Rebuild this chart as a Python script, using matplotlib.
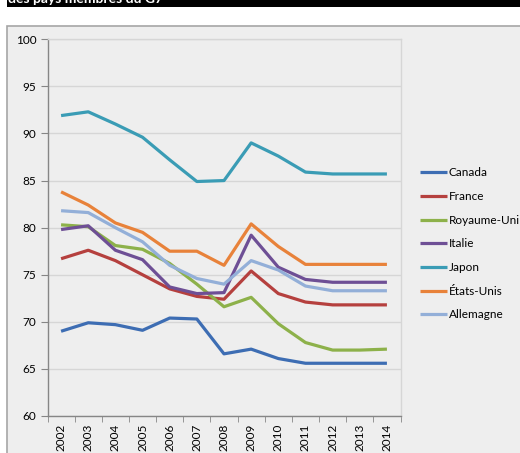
import matplotlib
matplotlib.use("Agg")
import matplotlib.pyplot as plt
from matplotlib.patches import Rectangle

plt.rcParams['font.family'] = ['Lato', 'DejaVu Sans']

years = ['2002', '2003', '2004', '2005', '2006', '2007', '2008',
         '2009', '2010', '2011', '2012', '2013', '2014']
canada = [69.0, 69.9, 69.7, 69.1, 70.4, 70.3, 66.6, 67.1, 66.1, 65.6, 65.6, 65.6, 65.6]
france = [76.7, 77.6, 76.5, 75.0, 73.5, 72.7, 72.4, 75.4, 73.0, 72.1, 71.8, 71.8, 71.8]
royaume_uni = [80.3, 80.1, 78.1, 77.7, 76.2, 74.0, 71.6, 72.6, 69.8, 67.8, 67.0, 67.0, 67.1]
italie = [79.8, 80.2, 77.6, 76.6, 73.7, 73.0, 73.1, 79.2, 75.8, 74.5, 74.2, 74.2, 74.2]
japon = [91.9, 92.3, 91.0, 89.6, 87.2, 84.9, 85.0, 89.0, 87.6, 85.9, 85.7, 85.7, 85.7]
etats_unis = [83.8, 82.4, 80.5, 79.5, 77.5, 77.5, 76.0, 80.4, 78.0, 76.1, 76.1, 76.1, 76.1]
allemagne = [81.8, 81.6, 80.0, 78.5, 76.0, 74.6, 74.0, 76.5, 75.5, 73.8, 73.3, 73.3, 73.3]

series = [
    ('Canada', canada, '#3d6db3'),
    ('France', france, '#b5403e'),
    ('Royaume-Uni', royaume_uni, '#8db14a'),
    ('Italie', italie, '#6e4f95'),
    ('Japon', japon, '#3a9cb5'),
    ('États-Unis', etats_unis, '#e8823a'),
    ('Allemagne', allemagne, '#93afd8'),
]
title = 'des pays membres du G7'

W, H = 520, 453
fig = plt.figure(figsize=(W / 100, H / 100), dpi=100)
fig.patch.set_facecolor('white')

# background axes for title bar and chart area
bg = fig.add_axes([0, 0, 1, 1], zorder=0)
bg.set_xlim(0, W)
bg.set_ylim(H, 0)
bg.axis('off')
bg.add_patch(Rectangle((7, -5), W, 11.5, facecolor='black', edgecolor='none'))
bg.add_patch(Rectangle((7, 25.5), W + 10, H, facecolor='#eeeeee', edgecolor='#a6a6a6',
                       linewidth=1.2))
bg.text(8, 3.0, title, color='white', fontweight='bold', fontsize=10,
        va='baseline', ha='left')

ax = fig.add_axes([47.5 / W, 1 - 416 / H, (400.5 - 47.5) / W, (416 - 39.3) / H], zorder=2)
ax.set_facecolor('#eeeeee')

x = list(range(len(years)))
for name, vals, col in series:
    ax.plot(x, vals, color=col, linewidth=2.3, label=name, solid_capstyle='butt', zorder=3)

ax.set_ylim(60, 100)
ax.set_xlim(-0.5, len(years) - 0.5)
ax.set_yticks(range(60, 101, 5))
ax.yaxis.grid(True, color='#d6d6d6', linewidth=1.0)
ax.set_axisbelow(True)

ax.set_xticks(x)
ax.set_xticklabels(years, rotation=90)
ax.set_xticks([i - 0.5 for i in range(len(years) + 1)], minor=True)
ax.tick_params(axis='x', which='major', length=0, pad=5.5, labelsize=8.5, colors='black')
ax.tick_params(axis='x', which='minor', length=4, color='#868686', direction='out')
ax.tick_params(axis='y', length=5, color='#868686', pad=3, labelsize=8.5)

for s in ['left', 'bottom']:
    ax.spines[s].set_color('#868686')
    ax.spines[s].set_linewidth(1.0)
for s in ['top', 'right']:
    ax.spines[s].set_color('#d6d6d6')
    ax.spines[s].set_linewidth(1.0)

leg = fig.legend(loc='upper left', bbox_to_anchor=(420 / W, 1 - 167.5 / H), frameon=False,
                 fontsize=8.5, handlelength=2.3, handletextpad=0.15, labelspacing=1.07,
                 borderaxespad=0, borderpad=0)
leg.set_zorder(5)

fig.savefig('out.png', dpi=100, facecolor='white')
